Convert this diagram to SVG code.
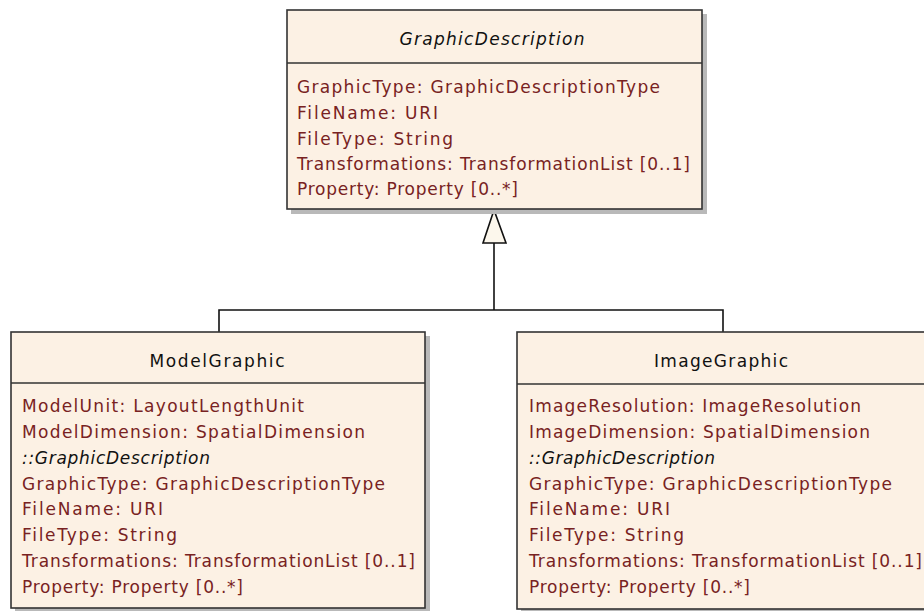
<svg xmlns="http://www.w3.org/2000/svg" width="924" height="611" viewBox="0 0 924 611">
<style>
.box{fill:#fcf1e4;stroke:#333;stroke-width:1.6}
.sep{stroke:#333;stroke-width:1.6}
.shadow{fill:#b9b9b9}
.title{font-family:"DejaVu Sans",Verdana,sans-serif;font-size:17px;fill:#111;text-anchor:middle}
.it{font-style:italic}
.attr{font-family:"DejaVu Sans",Verdana,sans-serif;font-size:17px;fill:#782222}
.inh{font-family:"DejaVu Sans",Verdana,sans-serif;font-size:17px;fill:#111;font-style:italic}
.conn{fill:none;stroke:#111;stroke-width:1.6}
</style>
<rect width="924" height="611" fill="#ffffff"/>
<g id="connectors">
<polyline class="conn" points="219,332 219,310 723,310 723,332"/>
<line class="conn" x1="494" y1="310" x2="494" y2="243"/>
<polygon points="494,210 483,243 506,243" fill="#fcf7ec" stroke="#111" stroke-width="1.6"/>
</g>
<g id="GraphicDescription">
<rect class="shadow" x="291" y="14" width="416" height="200"/>
<rect class="box" x="287" y="10" width="415" height="199"/>
<line class="sep" x1="287" y1="63" x2="702" y2="63"/>
<text class="title it" x="492" y="45" textLength="185" lengthAdjust="spacing">GraphicDescription</text>
<text class="attr" x="297" y="93" textLength="363" lengthAdjust="spacing">GraphicType: GraphicDescriptionType</text>
<text class="attr" x="297" y="119" textLength="141" lengthAdjust="spacing">FileName: URI</text>
<text class="attr" x="297" y="145" textLength="156" lengthAdjust="spacing">FileType: String</text>
<text class="attr" x="297" y="170" textLength="393" lengthAdjust="spacing">Transformations: TransformationList [0..1]</text>
<text class="attr" x="297" y="195" textLength="221" lengthAdjust="spacing">Property: Property [0..*]</text>
</g>
<g id="ModelGraphic">
<rect class="shadow" x="15" y="336" width="415" height="277"/>
<rect class="box" x="11" y="332" width="414" height="276"/>
<line class="sep" x1="11" y1="383" x2="425" y2="383"/>
<text class="title" x="217" y="367" textLength="135" lengthAdjust="spacing">ModelGraphic</text>
<text class="attr" x="22" y="412" textLength="282" lengthAdjust="spacing">ModelUnit: LayoutLengthUnit</text>
<text class="attr" x="22" y="438" textLength="343" lengthAdjust="spacing">ModelDimension: SpatialDimension</text>
<text class="inh" x="22" y="464" textLength="188" lengthAdjust="spacing">::GraphicDescription</text>
<text class="attr" x="22" y="490" textLength="363" lengthAdjust="spacing">GraphicType: GraphicDescriptionType</text>
<text class="attr" x="22" y="515" textLength="141" lengthAdjust="spacing">FileName: URI</text>
<text class="attr" x="22" y="541" textLength="155" lengthAdjust="spacing">FileType: String</text>
<text class="attr" x="22" y="567" textLength="393" lengthAdjust="spacing">Transformations: TransformationList [0..1]</text>
<text class="attr" x="22" y="593" textLength="221" lengthAdjust="spacing">Property: Property [0..*]</text>
</g>
<g id="ImageGraphic">
<rect class="shadow" x="521" y="336" width="415" height="277"/>
<rect class="box" x="517" y="332" width="414" height="277"/>
<line class="sep" x1="517" y1="384" x2="931" y2="384"/>
<text class="title" x="721" y="367" textLength="134" lengthAdjust="spacing">ImageGraphic</text>
<text class="attr" x="529" y="412" textLength="332" lengthAdjust="spacing">ImageResolution: ImageResolution</text>
<text class="attr" x="529" y="438" textLength="341" lengthAdjust="spacing">ImageDimension: SpatialDimension</text>
<text class="inh" x="529" y="464" textLength="186" lengthAdjust="spacing">::GraphicDescription</text>
<text class="attr" x="529" y="490" textLength="363" lengthAdjust="spacing">GraphicType: GraphicDescriptionType</text>
<text class="attr" x="529" y="515" textLength="141" lengthAdjust="spacing">FileName: URI</text>
<text class="attr" x="529" y="541" textLength="155" lengthAdjust="spacing">FileType: String</text>
<text class="attr" x="529" y="567" textLength="393" lengthAdjust="spacing">Transformations: TransformationList [0..1]</text>
<text class="attr" x="529" y="593" textLength="221" lengthAdjust="spacing">Property: Property [0..*]</text>
</g>
</svg>
